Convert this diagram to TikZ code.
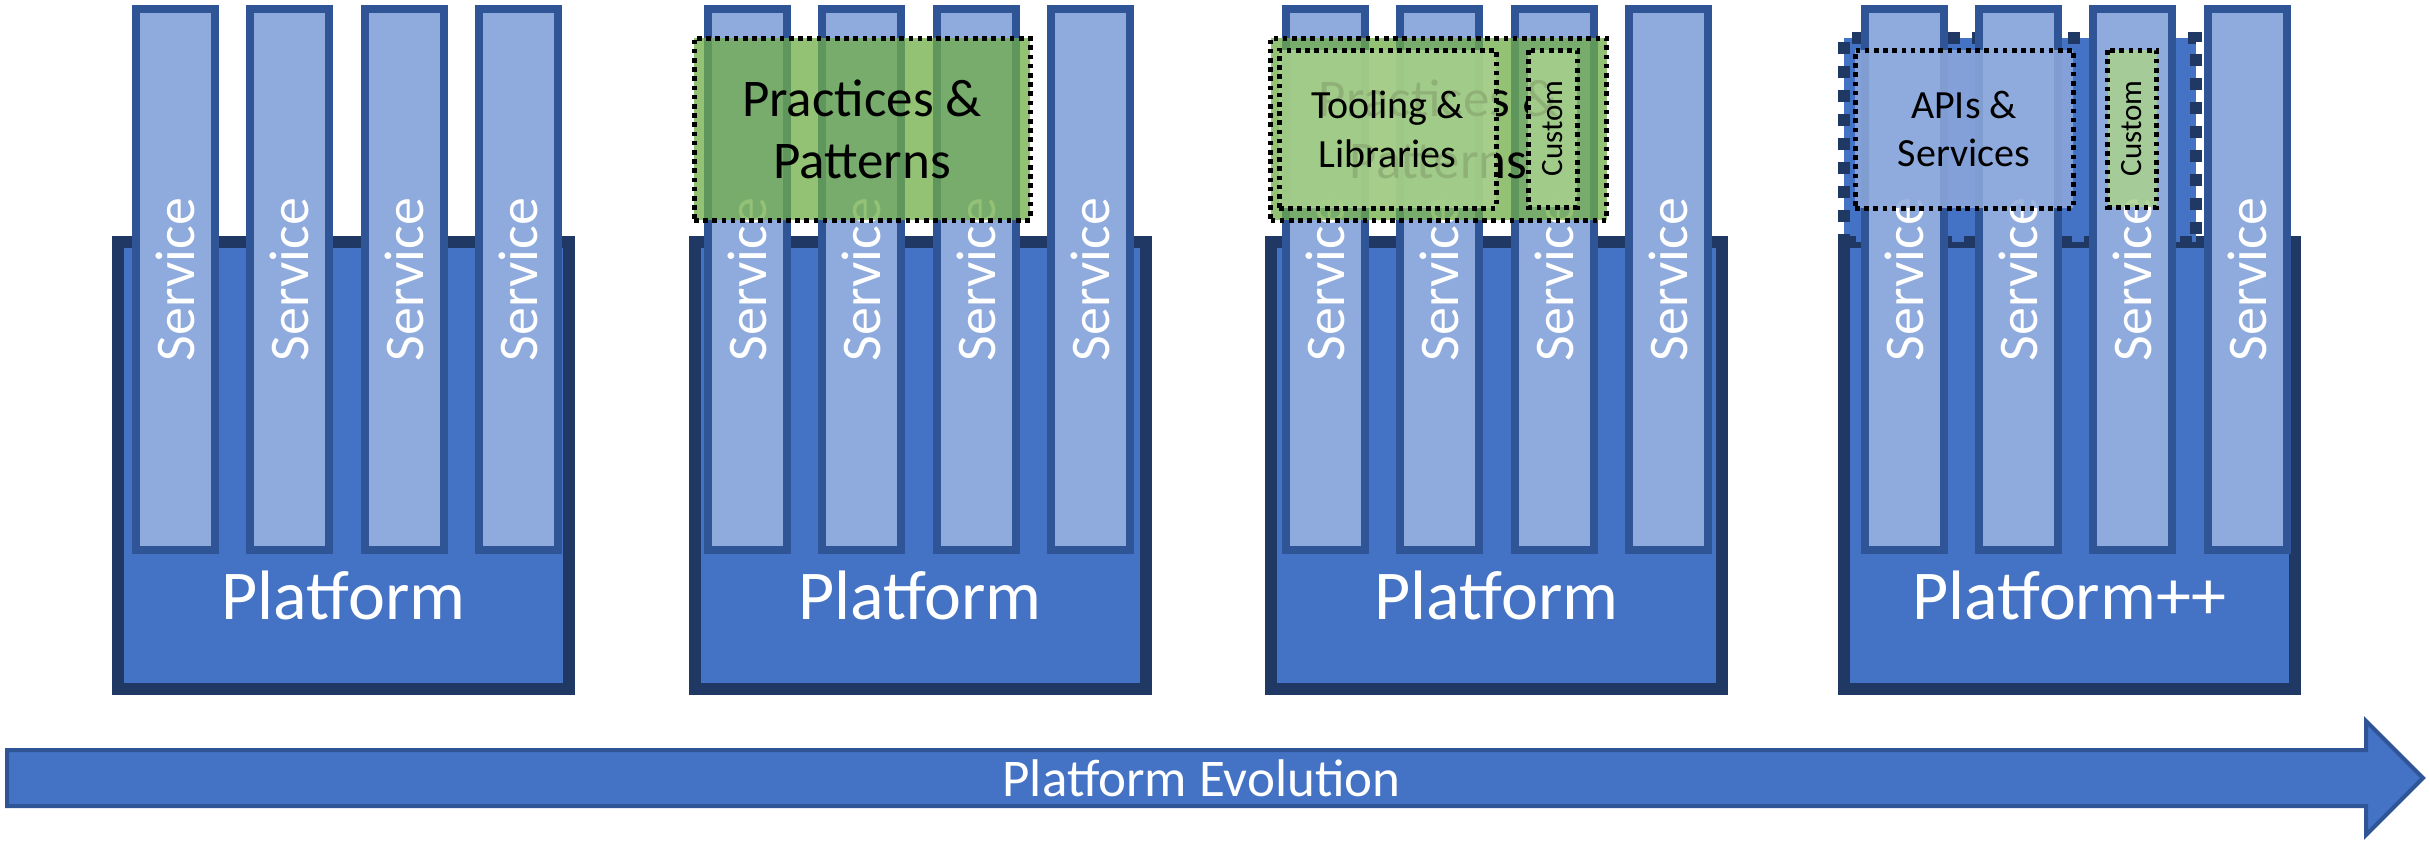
\documentclass[tikz,border=0pt]{standalone}
\usepackage{fontspec}
\setmainfont{Carlito}
\definecolor{platfill}{HTML}{4472C4}
\definecolor{platline}{HTML}{1F3864}
\definecolor{barfill}{HTML}{8FAADC}
\definecolor{barline}{HTML}{2F5597}
\definecolor{grn}{HTML}{70AD47}
\definecolor{lgrn}{HTML}{A9D18E}
\tikzset{
  platbox/.style={draw=platline, fill=platfill, line width=12pt, minimum width=451pt, minimum height=447pt, inner sep=0pt, outer sep=0pt},
  plattext/.style={text=white, font=\fontsize{70}{84}\selectfont, anchor=base, inner sep=0pt},
  svcbar/.style={draw=barline, fill=barfill, line width=8pt, rotate=90, minimum width=541pt, minimum height=79pt, inner sep=0pt, outer sep=0pt, text=white, font=\fontsize{56}{67}\selectfont},
  dotbox/.style={draw=black, line width=5pt, dash pattern=on 4.6pt off 4.6pt, inner sep=0pt, outer sep=0pt, text=black, align=center, text opacity=1},
  practbox/.style={dotbox, fill=grn, fill opacity=0.75, minimum width=336pt, minimum height=182pt, font=\fontsize{53}{62}\selectfont},
  toolbox/.style={dotbox, fill=lgrn, fill opacity=0.85, minimum width=217pt, minimum height=158pt, font=\fontsize{40}{49}\selectfont},
  apibox/.style={dotbox, fill=barfill, fill opacity=0.85, minimum width=218pt, minimum height=158pt, font=\fontsize{40}{48}\selectfont},
  custbox/.style={dotbox, fill=lgrn, fill opacity=0.85, rotate=90, minimum width=157pt, minimum height=49pt, font=\fontsize{31}{37}\selectfont},
  extbox/.style={draw=platline, fill=platfill, line width=12pt, dash pattern=on 12pt off 12pt, minimum width=352pt, minimum height=204pt, inner sep=0pt, outer sep=0pt},
  evoarrow/.style={draw=barline, fill=platfill, line width=4pt, line join=miter},
  evotext/.style={text=white, font=\fontsize{53}{64}\selectfont, anchor=base, inner sep=0pt}
}
\begin{document}
\begin{tikzpicture}[x=1pt,y=-1pt]
\useasboundingbox (0,0) rectangle (2430,844);
% ---------- Panel 1 ----------
\node[platbox] (p1) at (343.5,465.5) {};
\foreach \L [count=\j] in {132,246,361,475}
  \node[svcbar] (p1s\j) at (\L+43.5,279.5) {Service};
\node[plattext] (p1t) at (343.5,619) {Platform};
% ---------- Panel 2 ----------
\node[platbox] (p2) at (920,465.5) {};
\foreach \L [count=\j] in {704,818,933,1047}
  \node[svcbar] (p2s\j) at (\L+43.5,279.5) {Service};
\node[plattext] (p2t) at (920,619) {Platform};
\node[practbox] (p2pp) at (862,129) {Practices \&\\Patterns};
% ---------- Panel 3 ----------
\node[platbox] (p3) at (1496.5,465.5) {};
\foreach \L [count=\j] in {1282,1396,1511,1625}
  \node[svcbar] (p3s\j) at (\L+43.5,279.5) {Service};
\node[plattext] (p3t) at (1496.5,619) {Platform};
\node[practbox] (p3pp) at (1438.5,129) {Practices \&\\Patterns};
\node[toolbox] (p3tl) at (1387.5,129) {Tooling \&\\Libraries};
\node[custbox] (p3c) at (1552.5,128.5) {Custom};
% ---------- Panel 4 ----------
\node[platbox] (p4) at (2069.5,465.5) {};
\node[extbox] (p4ext) at (2020,140) {};
\foreach \L [count=\j] in {1861,1975,2089,2204}
  \node[svcbar] (p4s\j) at (\L+43.5,279.5) {Service};
\node[plattext] (p4t) at (2069.5,619) {Platform++};
\node[apibox] (p4api) at (1964,129) {APIs \&\\Services};
\node[custbox] (p4c) at (2132,128.5) {Custom};
% ---------- Evolution arrow ----------
\draw[evoarrow] (7,750) -- (2366,750) -- (2366,721) -- (2423,778) -- (2366,835) -- (2366,806) -- (7,806) -- cycle;
\node[evotext] (evo) at (1201.5,796) {Platform Evolution};
\end{tikzpicture}
\end{document}
